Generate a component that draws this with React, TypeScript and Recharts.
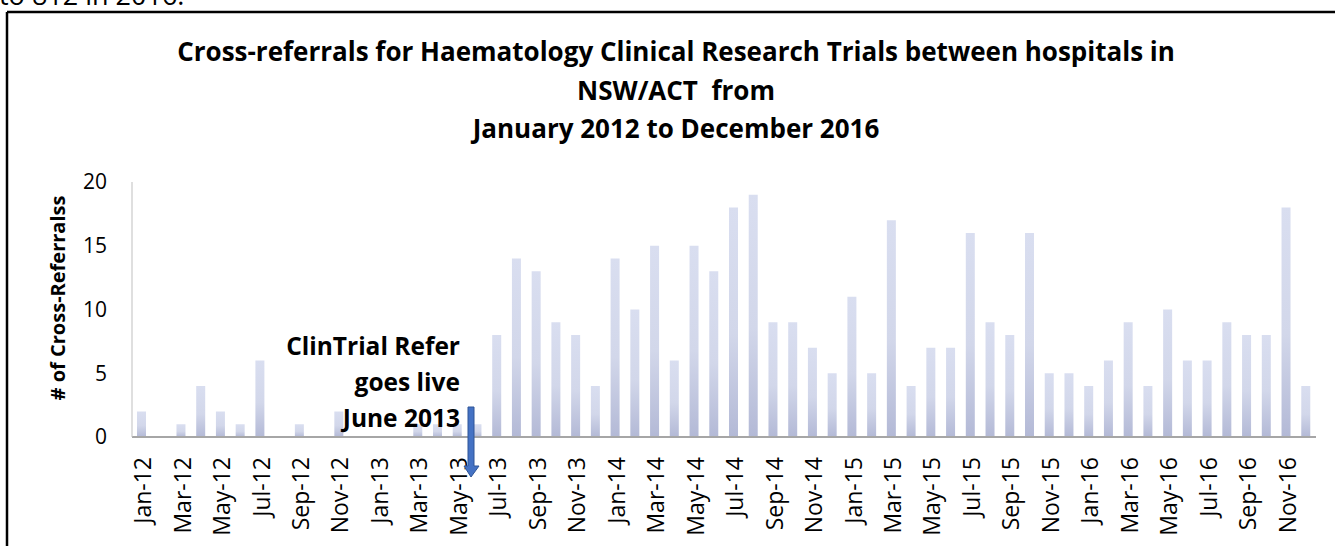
import React from "react";
import { BarChart, Bar, XAxis, YAxis } from "recharts";

const months: string[] = [
  "Jan-12", "Feb-12", "Mar-12", "Apr-12", "May-12", "Jun-12", "Jul-12", "Aug-12", "Sep-12", "Oct-12", "Nov-12", "Dec-12",
  "Jan-13", "Feb-13", "Mar-13", "Apr-13", "May-13", "Jun-13", "Jul-13", "Aug-13", "Sep-13", "Oct-13", "Nov-13", "Dec-13",
  "Jan-14", "Feb-14", "Mar-14", "Apr-14", "May-14", "Jun-14", "Jul-14", "Aug-14", "Sep-14", "Oct-14", "Nov-14", "Dec-14",
  "Jan-15", "Feb-15", "Mar-15", "Apr-15", "May-15", "Jun-15", "Jul-15", "Aug-15", "Sep-15", "Oct-15", "Nov-15", "Dec-15",
  "Jan-16", "Feb-16", "Mar-16", "Apr-16", "May-16", "Jun-16", "Jul-16", "Aug-16", "Sep-16", "Oct-16", "Nov-16", "Dec-16",
];

const referrals: number[] = [
  2, 0, 1, 4, 2, 1, 6, 0, 1, 0, 2, 0,
  0, 0, 1, 1, 1, 1, 8, 14, 13, 9, 8, 4,
  14, 10, 15, 6, 15, 13, 18, 19, 9, 9, 7, 5,
  11, 5, 17, 4, 7, 7, 16, 9, 8, 16, 5, 5,
  4, 6, 9, 4, 10, 6, 6, 9, 8, 8, 18, 4,
];

const yTicks: number[] = [0, 5, 10, 15, 20];

const titleLines: string[] = [
  "Cross-referrals for Haematology Clinical Research Trials between hospitals in",
  "NSW/ACT  from",
  "January 2012 to December 2016",
];

const annotationLines: string[] = ["ClinTrial Refer", "goes live", "June 2013"];

const data = months.map((m, i) => ({ month: m, value: referrals[i] }));

const FONT = "'Open Sans', 'Noto Sans', sans-serif";

const XTick = (props: any) => {
  const { x, payload } = props;
  const y = 457;
  return (
    <text
      x={x + 1}
      y={y}
      transform={`rotate(-90, ${x + 1}, ${y})`}
      textAnchor="end"
      dy="0.36em"
      fontFamily={FONT}
      fontSize={23}
      fill="#000"
    >
      {payload.value}
    </text>
  );
};

export default function App() {
  return (
    <div
      style={{
        position: "absolute",
        left: 0,
        top: 0,
        width: 1335,
        height: 546,
        overflow: "hidden",
        background: "#fff",
      }}
    >
      <div style={{ position: "absolute", left: 0, top: 0 }}>
        <BarChart
          width={1335}
          height={546}
          data={data}
          margin={{ top: 182, right: 19, bottom: 49, left: 72 }}
        >
          <defs>
            <linearGradient id="barGrad" x1="0" y1="0" x2="0" y2="1">
              <stop offset="0%" stopColor="#d9def0" />
              <stop offset="55%" stopColor="#d2d7ea" />
              <stop offset="100%" stopColor="#b3b9d6" />
            </linearGradient>
          </defs>
          <XAxis
            dataKey="month"
            height={60}
            interval={1}
            tickLine={false}
            axisLine={{ stroke: "#a6a6a6", strokeWidth: 2 }}
            tick={<XTick />}
          />
          <YAxis
            width={60}
            domain={[0, 20]}
            ticks={yTicks}
            tickLine={false}
            tickSize={0}
            tickMargin={25}
            axisLine={{ stroke: "#bfbfbf", strokeWidth: 1 }}
            tick={{ fontFamily: FONT, fontSize: 21, fill: "#000" }}
          />
          <Bar dataKey="value" fill="url(#barGrad)" barSize={9} isAnimationActive={false} />
        </BarChart>
      </div>
      <svg
        width={1335}
        height={546}
        style={{ position: "absolute", left: 0, top: 0, pointerEvents: "none" }}
      >
        <text x={-1} y={5} fontFamily={FONT} fontSize={27} fill="#000">
          to 812 in 2016.
        </text>
        <line x1={7} y1={12} x2={1335} y2={12} stroke="#000" strokeWidth={2.5} />
        <line x1={7} y1={12} x2={7} y2={546} stroke="#000" strokeWidth={2.5} />
        {titleLines.map((t, i) => (
          <text
            key={i}
            x={676}
            y={61 + i * 38.5}
            textAnchor="middle"
            fontFamily={FONT}
            fontWeight="bold"
            fontSize={26}
            fill="#000"
            style={{ whiteSpace: "pre" }}
          >
            {t}
          </text>
        ))}
        <text
          x={0}
          y={0}
          transform="translate(65, 298) rotate(-90)"
          textAnchor="middle"
          fontFamily={FONT}
          fontWeight="bold"
          fontSize={20}
          fill="#000"
        >
          # of Cross-Referralss
        </text>
        {annotationLines.map((t, i) => (
          <text
            key={i}
            x={460}
            y={355 + i * 36}
            textAnchor="end"
            fontFamily={FONT}
            fontWeight="bold"
            fontSize={24.5}
            fill="#000"
          >
            {t}
          </text>
        ))}
        <path
          d="M468,407 L474,407 L474,466 L479,466 L471,477 L464,466 L468,466 Z"
          fill="#4472c4"
          stroke="#2f5597"
          strokeWidth={1}
        />
      </svg>
    </div>
  );
}
